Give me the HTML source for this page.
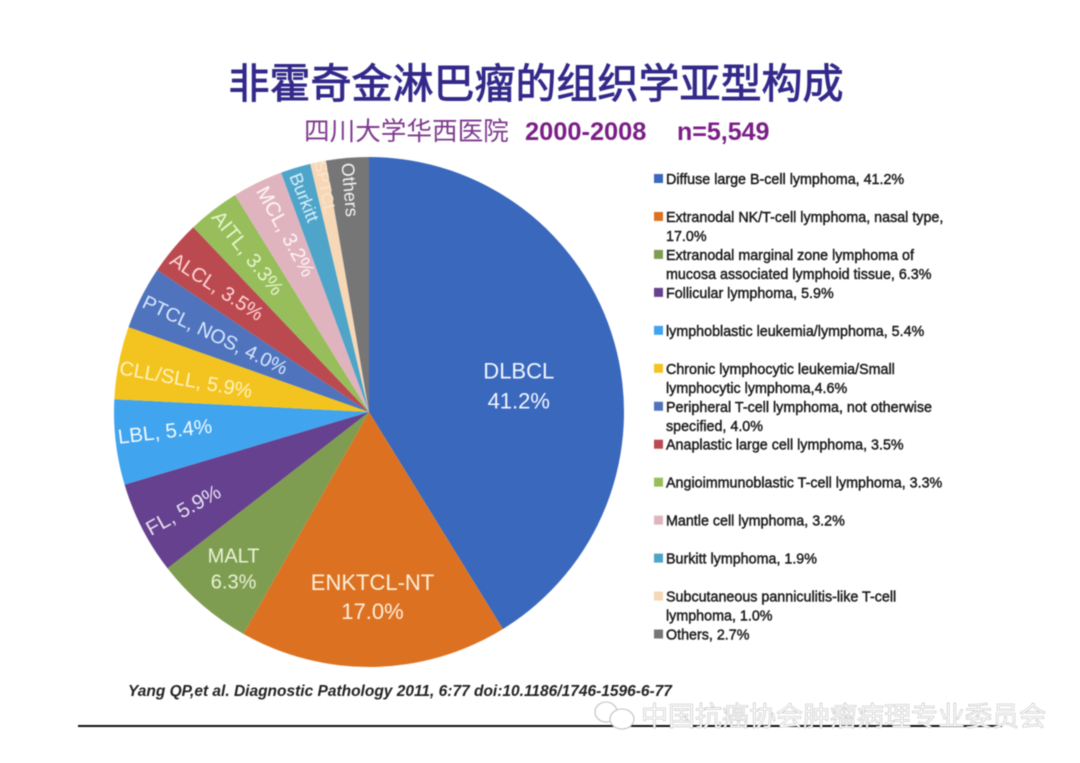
<!DOCTYPE html>
<html lang="zh">
<head>
<meta charset="utf-8">
<title>非霍奇金淋巴瘤的组织学亚型构成</title>
<style>
html,body{margin:0;padding:0;background:#fff;}
body{width:1080px;height:763px;overflow:hidden;}
svg{display:block;filter:blur(0.4px);}
text{font-family:"Liberation Sans","Noto Sans CJK SC",sans-serif;}
</style>
</head>
<body>
<svg id="chart" width="1080" height="763" viewBox="0 0 1080 763" xmlns="http://www.w3.org/2000/svg">
  <rect width="1080" height="763" fill="#ffffff"/>
  <text x="536" y="98" text-anchor="middle" font-size="41" fill="#33298a" stroke="#33298a" stroke-width="0.9" style="font-family:'Noto Sans CJK SC',sans-serif">非霍奇金淋巴瘤的组织学亚型构成</text>
  <text x="304" y="140" font-size="25.6" fill="#7f3a8e" style="font-family:'Noto Sans CJK SC',sans-serif">四川大学华西医院</text>
  <text x="525" y="140" font-size="25.4" font-weight="700" fill="#7b1f86">2000-2008</text>
  <text x="677" y="140" font-size="25" font-weight="700" fill="#7b1f86">n=5,549</text>
  <g id="pie"></g>
  <g id="slice-labels"></g>
  <g id="legend"></g>
  <text x="128" y="696" font-size="15.5" font-weight="700" font-style="italic" fill="#222">Yang QP,et al. Diagnostic Pathology 2011, 6:77 doi:10.1186/1746-1596-6-77</text>
  <line x1="78" y1="726" x2="1002" y2="726" stroke="#111" stroke-width="2"/>
  <g>
    <g fill="#fff" stroke="#c0c0c0" stroke-width="1.1">
      <ellipse cx="606" cy="712" rx="11" ry="10"/>
      <ellipse cx="622" cy="719" rx="12" ry="10"/>
    </g>
    <text x="641" y="726" font-size="27" fill="#ffffff" stroke="#bcbcbc" stroke-width="0.55" style="font-family:'Noto Sans CJK SC',sans-serif">中国抗癌协会肿瘤病理专业委员会</text>
  </g>
</svg>
<script>
const categories = ["DLBCL","ENKTCL-NT","MALT","FL","LBL","CLL/SLL","PTCL, NOS","ALCL","AITL","MCL","Burkitt","SPTCL","Others"];
const sliceValues = [41.2,17.0,6.3,5.9,5.4,4.6,4.0,3.5,3.3,3.2,1.9,1.0,2.7];
const printedLabels = [["DLBCL","41.2%"],["ENKTCL-NT","17.0%"],["MALT","6.3%"],["FL, 5.9%"],["LBL, 5.4%"],["CLL/SLL, 5.9%"],["PTCL, NOS, 4.0%"],["ALCL, 3.5%"],["AITL, 3.3%"],["MCL, 3.2%"],["Burkitt"],["SPTCL"],["Others"]];
const legendLabels = [
  ["Diffuse large B-cell lymphoma, 41.2%"],
  ["Extranodal NK/T-cell lymphoma, nasal type,","17.0%"],
  ["Extranodal marginal zone lymphoma of","mucosa associated lymphoid tissue, 6.3%"],
  ["Follicular lymphoma, 5.9%"],
  ["lymphoblastic leukemia/lymphoma, 5.4%"],
  ["Chronic lymphocytic leukemia/Small","lymphocytic lymphoma,4.6%"],
  ["Peripheral T-cell lymphoma, not otherwise","specified, 4.0%"],
  ["Anaplastic large cell lymphoma, 3.5%"],
  ["Angioimmunoblastic T-cell lymphoma, 3.3%"],
  ["Mantle cell lymphoma, 3.2%"],
  ["Burkitt lymphoma, 1.9%"],
  ["Subcutaneous panniculitis-like T-cell","lymphoma, 1.0%"],
  ["Others, 2.7%"]
];
const sliceColors = ["#3a68bd","#dc7221","#7f9d50","#66418f","#41a4ee","#f3c41f","#4f74bd","#bb4a50","#97be5a","#e0b4bf","#4fa4c9","#f6d7b6","#767676"];
const labelColors = ["#f2f7ff","#fdeedd","#e8f3d6","#e6e0f2","#f2f9ff","#fff3c0","#d8e8ff","#ffd5d5","#e6f5cf","#fff5f7","#d6f0fa","#fbe6cf","#f4f4f4"];

const SVG_NS = "http://www.w3.org/2000/svg";
const CX = 369, CY = 412, R = 255;
const total = sliceValues.reduce(function(a,b){return a+b;},0);
function angleOf(cumulative){ return cumulative / total * 360; }
function polarX(deg, r){ return CX + r * Math.sin(deg * Math.PI / 180); }
function polarY(deg, r){ return CY - r * Math.cos(deg * Math.PI / 180); }
function legendY(i){ return 179 + i * 37.96; }

function drawPie(){
  const pie = document.getElementById("pie");
  const labels = document.getElementById("slice-labels");
  // label placement relative to its slice: radius, angular shift, rotation shift (null = horizontal), font size, line gap
  const place = [[152,6,null,22,30],[185,0,null,22,29],[207,0,null,20,26],[210,-0.6,-2,20.5,0],[205,1.5,0,20.5,0],[186,-1,-1,20,0],[172,0,-1,19.5,0],[197,-0.6,-7,20,0],[200,0.4,-1,20.5,0],[199,1.2,-3,20.2,0],[224,0,-5,18,0],[229,0.5,0,16.5,0],[223,0,0,18,0]];
  let cumulative = 0;
  sliceValues.forEach(function(v,i){
    const a0 = angleOf(cumulative);
    const a1 = angleOf(cumulative + v);
    cumulative += v;
    const path = document.createElementNS(SVG_NS,"path");
    const large = (a1 - a0) > 180 ? 1 : 0;
    path.setAttribute("d","M"+CX+" "+CY+"L"+polarX(a0,R)+" "+polarY(a0,R)+"A"+R+" "+R+" 0 "+large+" 1 "+polarX(a1,R)+" "+polarY(a1,R)+"Z");
    path.setAttribute("fill",sliceColors[i]);
    
    
    pie.appendChild(path);

    const mid = (a0 + a1) / 2;
    const p = place[i];
    const lx = polarX(mid + p[1], p[0]);
    const ly = polarY(mid + p[1], p[0]);
    const rot = p[2] === null ? 0 : mid - 270 + p[2];
    const t = document.createElementNS(SVG_NS,"text");
    t.setAttribute("transform","translate("+lx+" "+ly+") rotate("+rot+")");
    t.setAttribute("text-anchor","middle");
    t.setAttribute("font-size",p[3]);
    t.setAttribute("fill",labelColors[i]);
    
    
    const lines = printedLabels[i];
    lines.forEach(function(line,k){
      const s = document.createElementNS(SVG_NS,"tspan");
      s.setAttribute("x",0);
      s.setAttribute("y",(k - (lines.length-1)/2) * p[4] + p[3]*0.35);
      s.textContent = line;
      t.appendChild(s);
    });
    labels.appendChild(t);
  });
}

function drawLegend(){
  const legend = document.getElementById("legend");
  legendLabels.forEach(function(lines,i){
    const y = legendY(i);
    const sw = document.createElementNS(SVG_NS,"rect");
    sw.setAttribute("x",654);
    sw.setAttribute("y",y-5);
    sw.setAttribute("width",9);
    sw.setAttribute("height",9);
    sw.setAttribute("fill",sliceColors[i]);
    
    
    legend.appendChild(sw);
    lines.forEach(function(line,k){
      const t = document.createElementNS(SVG_NS,"text");
      t.setAttribute("x",666);
      t.setAttribute("y",y + 5 + k * 19);
      t.setAttribute("font-size",14.3);
      t.setAttribute("fill","#1c1c1c");
      t.setAttribute("stroke","#1c1c1c");
      t.setAttribute("stroke-width",0.45);
      
      
      t.textContent = line;
      legend.appendChild(t);
    });
  });
}
drawPie();
drawLegend();
</script>
</body>
</html>
